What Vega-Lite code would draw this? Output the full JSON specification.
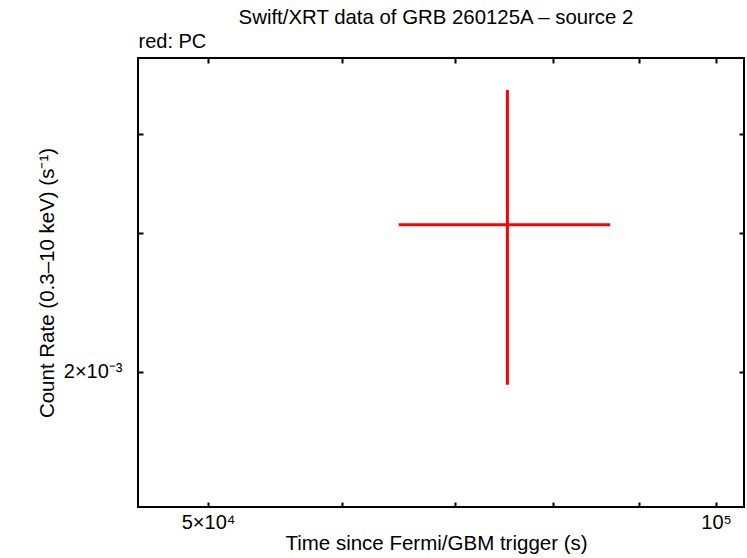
{
  "$schema": "https://vega.github.io/schema/vega-lite/v6.json",
  "width": 606,
  "height": 449,
  "autosize": {"type": "none"},
  "padding": {"left": 138, "top": 58, "right": 3, "bottom": 51},
  "background": "white",
  "config": {
    "view": {"stroke": "black", "strokeWidth": 2},
    "font": "Liberation Sans",
    "axis": {"domain": false, "grid": false, "tickColor": "black", "tickWidth": 2, "labelColor": "black", "titleColor": "black", "labelFont": "Liberation Sans", "titleFont": "Liberation Sans", "labelFontSize": 20, "titleFontSize": 20.5, "titleFontWeight": "normal"}
  },
  "title": {"text": "Swift/XRT data of GRB 260125A \u2013 source 2", "frame": "group", "anchor": "middle", "fontSize": 20.4, "fontWeight": "normal", "font": "Liberation Sans", "color": "black", "offset": 3, "dx": -5},
  "data": {"values": [
    {"t": 75225, "tlo": 64854, "thi": 86548, "rate": 0.003070, "rlo": 0.001926, "rhi": 0.004547}
  ]},
  "layer": [
    {
      "mark": {"type": "rule", "color": "#ff0000", "strokeWidth": 3},
      "encoding": {
        "x": {"field": "t", "type": "quantitative", "scale": {"type": "log", "domain": [45442, 103886], "nice": false},
          "axis": {"orient": "bottom", "values": [50000, 60000, 70000, 80000, 90000, 100000], "tickSize": -5, "labelPadding": 10, "labelExpr": "datum.value == 50000 ? '5\u00d710\u2074' : (datum.value == 100000 ? '10\u2075' : '')", "title": "Time since Fermi/GBM trigger (s)", "titlePadding": 1, "titleX": 298, "labelFlush": false}},
        "y": {"field": "rlo", "type": "quantitative", "scale": {"type": "log", "domain": [0.001349, 0.004992], "nice": false},
          "axis": {"orient": "left", "values": [0.002, 0.003, 0.004], "tickSize": -5, "labelPadding": 21, "labelExpr": "datum.value == 0.002 ? '2\u00d710\u207b\u00b3' : ''", "title": "Count Rate (0.3\u201310 keV) (s\u207b\u00b9)", "titlePadding": 6}},
        "y2": {"field": "rhi"}
      }
    },
    {
      "mark": {"type": "rule", "color": "#ff0000", "strokeWidth": 3},
      "encoding": {
        "x": {"field": "tlo", "type": "quantitative", "scale": {"type": "log"},
          "axis": {"orient": "top", "values": [50000, 60000, 70000, 80000, 90000, 100000], "tickSize": -5, "labels": false, "title": "red: PC", "titleAnchor": "start", "titleFontSize": 20, "titlePadding": 6}},
        "x2": {"field": "thi"},
        "y": {"field": "rate", "type": "quantitative", "scale": {"type": "log"},
          "axis": {"orient": "right", "values": [0.002, 0.003, 0.004], "tickSize": -5, "labels": false, "title": null}}
      }
    }
  ],
  "resolve": {"axis": {"x": "independent", "y": "independent"}}
}
